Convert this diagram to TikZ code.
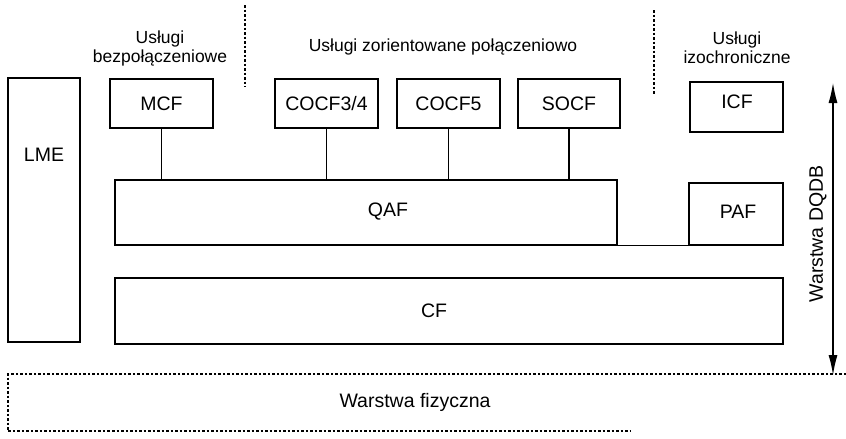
\documentclass[tikz,border=0pt]{standalone}
\usepackage{fontspec}
\setmainfont{Liberation Sans}
\usetikzlibrary{arrows.meta}
\begin{document}
\begin{tikzpicture}[x=1pt,y=-1pt,
  box/.style={draw,line width=1.3pt,rectangle,inner sep=0pt,font=\fontsize{19.5}{22}\selectfont},
  lbl/.style={font=\fontsize{19.5}{22}\selectfont,inner sep=0pt},
  toplbl/.style={font=\fontsize{17.5}{19}\selectfont,align=center,inner sep=0pt},
  sep/.style={line width=1.4pt,dash pattern=on 2.5pt off 2pt},
  conn/.style={line width=1.2pt},
  >={Latex[length=20pt,width=9pt]}]
\useasboundingbox (0,0) rectangle (846,439);
% boxes
\node[box,minimum width=72pt,minimum height=264pt] (lme) at (44,210) {};
\node[lbl] (lmet) at (44,155) {LME};
\node[box,minimum width=103pt,minimum height=49pt] (mcf) at (161.5,103.5) {MCF};
\node[box,minimum width=103pt,minimum height=49pt] (cocfa) at (326.5,103.5) {COCF3/4};
\node[box,minimum width=103pt,minimum height=49pt] (cocfb) at (448.5,103.5) {COCF5};
\node[box,minimum width=102pt,minimum height=49pt] (socf) at (569,103.5) {SOCF};
\node[box,minimum width=93pt,minimum height=50pt] (icf) at (736.5,107) {};
\node[lbl] (icft) at (737,102) {ICF};
\node[box,minimum width=502pt,minimum height=65pt] (qaf) at (366,212.5) {};
\node[lbl] (qaft) at (388,212) {QAF};
\node[box,minimum width=94pt,minimum height=62pt] (paf) at (736,214) {};
\node[lbl] (paft) at (738,212) {PAF};
\node[box,minimum width=668pt,minimum height=66pt] (cf) at (449,311) {};
\node[lbl] (cft) at (434,311) {CF};
% connectors
\draw[conn] (mcf.south) -- (mcf.south |- qaf.north);
\draw[conn] (cocfa.south) -- (cocfa.south |- qaf.north);
\draw[conn] (cocfb.south) -- (cocfb.south |- qaf.north);
\draw[conn] (socf.south) -- (socf.south |- qaf.north);
\draw[conn] (qaf.south east) -- (paf.south west);
% top labels
\node[toplbl] (l1) at (160,48) {Usługi\\bezpołączeniowe};
\node[toplbl] (l2) at (443,47) {Usługi zorientowane połączeniowo};
\node[toplbl] (l3) at (737,48) {Usługi\\izochroniczne};
% separators
\coordinate (s1a) at (245,5); \coordinate (s1b) at (245,87);
\coordinate (s2a) at (654,10); \coordinate (s2b) at (654,95);
\draw[sep] (s1a) -- (s1b);
\draw[sep] (s2a) -- (s2b);
% DQDB arrow
\coordinate (at) at (833,83); \coordinate (ab) at (833,375);
\draw[conn,<->] (at) -- (ab);
\node[lbl,rotate=90] (dqdb) at (818,234) {Warstwa DQDB};
% physical layer
\coordinate (p1) at (846,374); \coordinate (p2) at (8,374);
\coordinate (p3) at (8,431); \coordinate (p4) at (630,431);
\draw[sep] (p1) -- (p2) -- (p3) -- (p4);
\node[lbl] (phys) at (415,402) {Warstwa fizyczna};
\end{tikzpicture}
\end{document}
